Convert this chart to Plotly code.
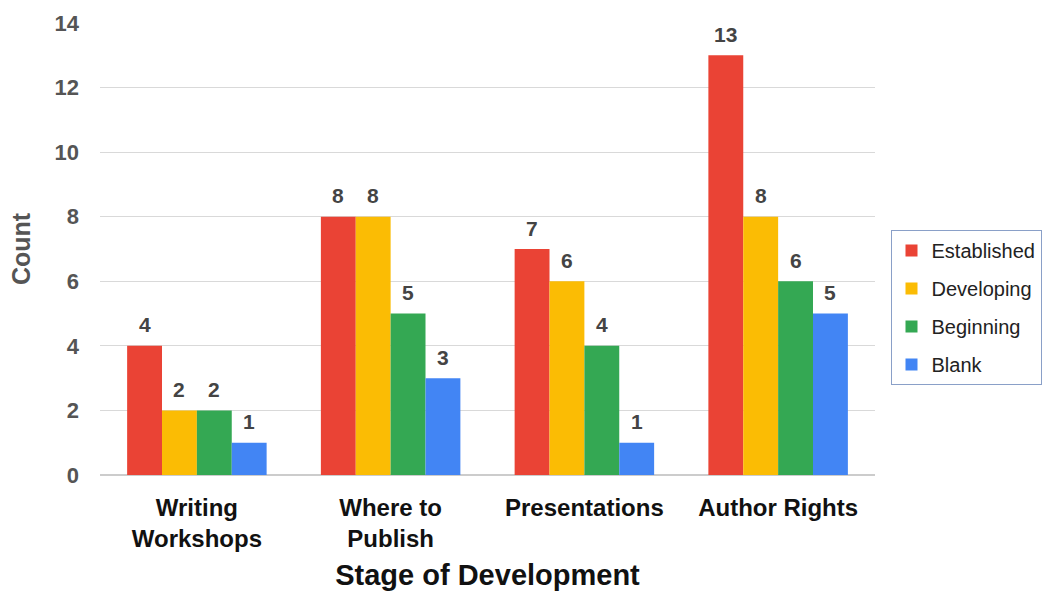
import plotly.graph_objects as go

categories = ["Writing<br>Workshops", "Where to<br>Publish", "Presentations", "Author Rights"]
series_names = ["Established", "Developing", "Beginning", "Blank"]
established = [4, 8, 7, 13]
developing = [2, 8, 6, 8]
beginning = [2, 5, 4, 6]
blank = [1, 3, 1, 5]
colors = ["#EA4335", "#FBBC04", "#34A853", "#4285F4"]

FONT = "Liberation Sans, Arial"
L, R, T, B = 100, 171, 23, 118
W, H = 1046, 593
BARGAP = 0.28

fig = go.Figure()
all_series = [established, developing, beginning, blank]
cat_w = (W - L - R) / len(categories)
bar_w = cat_w * (1 - BARGAP) / len(all_series)

for i, (name, vals, c) in enumerate(zip(series_names, all_series, colors)):
    fig.add_trace(go.Bar(
        x=categories, y=vals, name=name, marker_color=c, marker_line_width=0,
        legendgroup=name,
    ))
    off = (i - (len(all_series) - 1) / 2) * bar_w
    for cat, v in zip(categories, vals):
        fig.add_annotation(
            x=cat, y=v, xref="x", yref="y", text=str(v), showarrow=False,
            xshift=off, yshift=21, yanchor="middle",
            font=dict(family=FONT, size=21, color="#444444", weight="bold"),
        )

fig.update_layout(
    width=W, height=H,
    margin=dict(l=L, r=R, t=T, b=B, autoexpand=False),
    paper_bgcolor="white", plot_bgcolor="white",
    barmode="group", bargap=BARGAP, bargroupgap=0,
    font=dict(family=FONT),
    xaxis=dict(
        tickfont=dict(size=24, color="#111111", weight="bold"),
        ticklabelstandoff=16,
        title=dict(text="Stage of Development", font=dict(size=29, color="#111111", weight="bold"), standoff=13),
        showgrid=False, ticks="", showline=False,
    ),
    yaxis=dict(
        range=[0, 14], dtick=2,
        tickfont=dict(size=22, color="#555555", weight="bold"),
        ticklabelstandoff=20,
        title=dict(text="Count", font=dict(size=25, color="#555555", weight="bold"), standoff=16),
        gridcolor="#d9d9d9", gridwidth=1, zeroline=True, zerolinecolor="#cccccc", ticks="", showline=False,
    ),
    legend=dict(
        x=1.02, y=0.542, xanchor="left", yanchor="top",
        bordercolor="#8aa0c8", borderwidth=1,
        font=dict(size=20, color="#222222"),
        itemwidth=30, tracegroupgap=9,
    ),
    showlegend=True,
)
fig.write_html("out.html")
